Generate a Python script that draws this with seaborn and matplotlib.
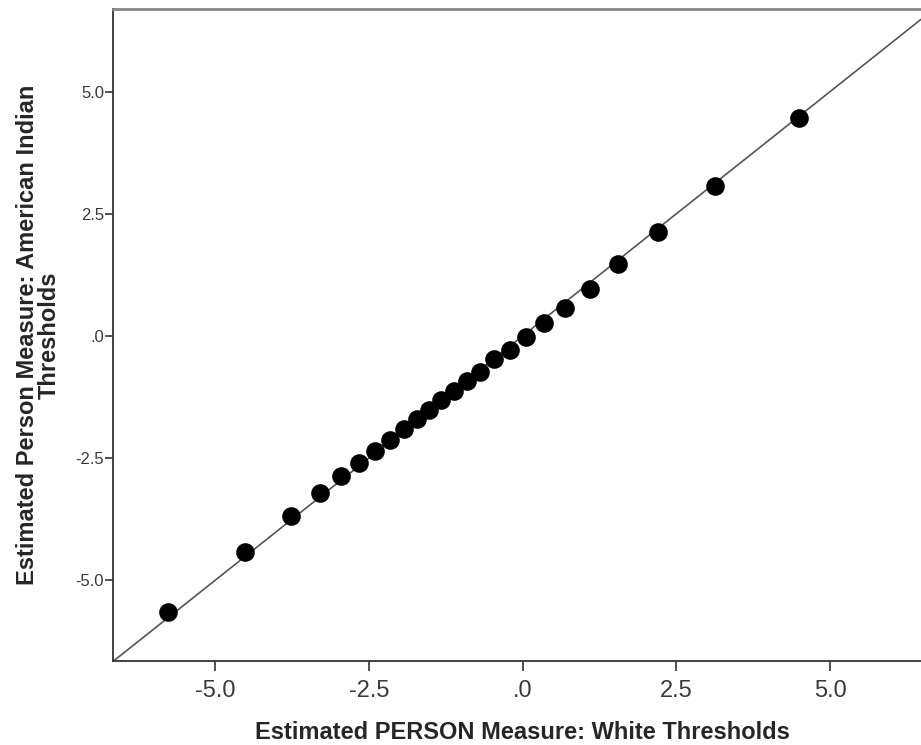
import pandas as pd
import matplotlib
matplotlib.use('Agg')
import matplotlib.pyplot as plt
import seaborn as sns

# Valores
white = [-5.77, -4.52, -3.77, -3.30, -2.95, -2.66, -2.40, -2.16, -1.93, -1.71,
         -1.52, -1.32, -1.12, -0.91, -0.69, -0.47, -0.21, 0.05, 0.35, 0.69,
         1.09, 1.55, 2.20, 3.13, 4.49]
american_indian = [-5.65, -4.42, -3.69, -3.22, -2.86, -2.60, -2.35, -2.13, -1.90, -1.70,
                   -1.51, -1.31, -1.12, -0.93, -0.73, -0.47, -0.28, -0.03, 0.26, 0.58,
                   0.96, 1.47, 2.12, 3.07, 4.46]
ticks = [-5.0, -2.5, 0.0, 2.5, 5.0]
tick_labels = ['-5.0', '-2.5', '.0', '2.5', '5.0']

df = pd.DataFrame({'white': white, 'american_indian': american_indian})

sns.set_style('white')
plt.rcParams['font.family'] = ['Liberation Sans', 'DejaVu Sans']

fig = plt.figure(figsize=(9.21, 7.45), dpi=100)
ax = fig.add_axes([0.1227, 0.1128, 0.8773, 0.875])

# Línea de referencia y = x
ax.axline((0, 0), slope=1, color='#555555', linewidth=1.2, zorder=1)

sns.scatterplot(data=df, x='white', y='american_indian', ax=ax,
                color='black', s=180, edgecolor='black', linewidth=0, zorder=2)

ax.set_xlim(-6.66, 6.48)
ax.set_ylim(-6.65, 6.69)

ax.set_xticks(ticks)
ax.set_xticklabels(tick_labels, fontsize=17, color='#3a3a3a')
ax.set_yticks(ticks)
ax.set_yticklabels(tick_labels, fontsize=12, color='#3a3a3a')
ax.tick_params(axis='both', direction='out', width=1.2, color='#333333',
               bottom=True, left=True)
ax.tick_params(axis='x', length=7.5, pad=6.5)
ax.tick_params(axis='y', length=6, pad=0.5)

for side in ['left', 'bottom']:
    ax.spines[side].set_color('#333333')
    ax.spines[side].set_linewidth(1.3)
ax.spines['top'].set_color('#888888')
ax.spines['top'].set_linewidth(2)
ax.spines['right'].set_visible(False)

ax.set_xlabel('Estimated PERSON Measure: White Thresholds', fontsize=17,
              fontweight='bold', va='top')
ax.xaxis.set_label_coords(0.507, -0.092)
ax.set_ylabel('Estimated Person Measure: American Indian\nThresholds', fontsize=17,
              fontweight='bold', linespacing=0.9)
ax.yaxis.set_label_coords(-0.065, 0.5)

fig.savefig('out.png', dpi=100)
